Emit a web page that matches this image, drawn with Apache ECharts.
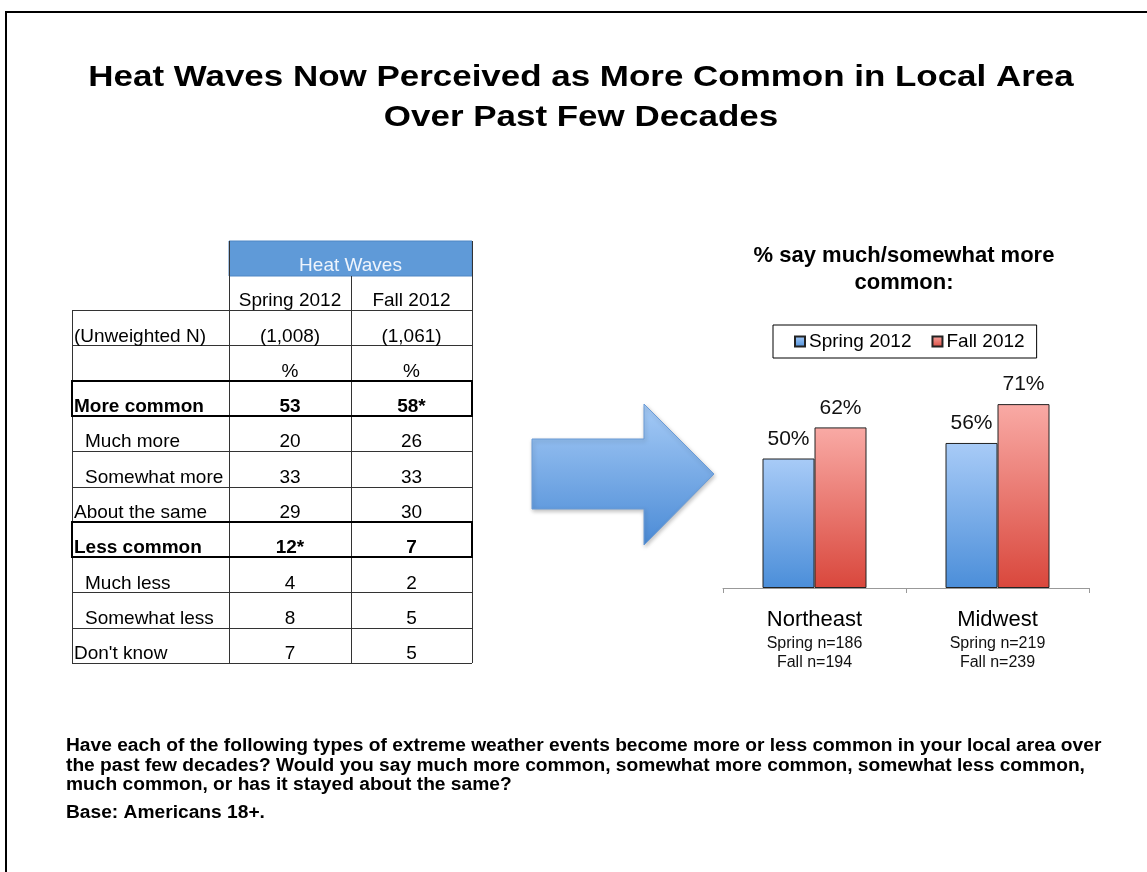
<!DOCTYPE html>
<html>
<head>
<meta charset="utf-8">
<script src="https://cdn.jsdelivr.net/npm/echarts@6/dist/echarts.min.js"></script>
<style>
html,body{margin:0;padding:0;background:#fff;}
#c{width:1147px;height:872px;}
</style>
</head>
<body>
<div id="c"></div>
<script>
// ---- data ----
const titleLines = ['Heat Waves Now Perceived as More Common in Local Area', 'Over Past Few Decades'];
const tableHeader = 'Heat Waves';
const tableCols = ['Spring 2012', 'Fall 2012'];
const rowLabels = ['(Unweighted N)', '', 'More common', 'Much more', 'Somewhat more', 'About the same', 'Less common', 'Much less', 'Somewhat less', "Don't know"];
const springCol = ['(1,008)', '%', '53', '20', '33', '29', '12*', '4', '8', '7'];
const fallCol = ['(1,061)', '%', '58*', '26', '33', '30', '7', '2', '5', '5'];
const boldRows = [2, 6];
const indentRows = [3, 4, 7, 8];

const chartTitle = '% say much/somewhat more\ncommon:';
const regions = ['Northeast', 'Midwest'];
const springPct = [50, 56];
const fallPct = [62, 71];
const springN = [186, 219];
const fallN = [194, 239];
const seriesNames = ['Spring 2012', 'Fall 2012'];

const footerLines = [
  'Have each of the following types of extreme weather events become more or less common in your local area over',
  'the past few decades? Would you say much more common, somewhat more common, somewhat less common,',
  'much common, or has it stayed about the same?'
];
const baseNote = 'Base: Americans 18+.';

// ---- layout ----
const FONT = '"Liberation Sans", Arial, Helvetica, sans-serif';
const chart = echarts.init(document.getElementById('c'));
const g = [];

// page frame
g.push({type: 'rect', shape: {x: 6, y: 12, width: 1200, height: 900}, style: {fill: 'none', stroke: '#000', lineWidth: 2}, z: 1});

// title (wide lettering, as in the slide)
titleLines.forEach((t, i) => {
  g.push({type: 'text', x: 581, y: 78 + i * 40, scaleX: 1.165, scaleY: 1,
    style: {text: t, x: 0, y: 0, align: 'center', verticalAlign: 'middle', font: 'bold 30px ' + FONT, fill: '#000'}});
});

// table
const X0 = 72, X1 = 229, X2 = 351, X3 = 472;
const HY0 = 241, HY1 = 276, RY0 = 310, RH = 35.3;
const nRows = rowLabels.length;
const yEnd = RY0 + RH * nRows;
g.push({type: 'rect', shape: {x: X1, y: HY0, width: X3 - X1, height: HY1 - HY0}, style: {fill: '#5f9ad8', stroke: '#4f86c4', lineWidth: 1}});
g.push({type: 'text', style: {text: tableHeader, x: (X1 + X3) / 2, y: 266, align: 'center', verticalAlign: 'middle', font: '19px ' + FONT, fill: '#eef4fc'}});
tableCols.forEach((c, i) => {
  g.push({type: 'text', style: {text: c, x: i === 0 ? (X1 + X2) / 2 : (X2 + X3) / 2, y: HY1 + 25, align: 'center', verticalAlign: 'middle', font: '19px ' + FONT, fill: '#000'}});
});
const lineStyle = {stroke: '#333', lineWidth: 1};
for (let r = 0; r <= nRows; r++) {
  const y = Math.round(RY0 + RH * r) + 0.5;
  g.push({type: 'line', shape: {x1: X0, y1: y, x2: X3, y2: y}, style: lineStyle});
}
g.push({type: 'line', shape: {x1: X0 + 0.5, y1: RY0, x2: X0 + 0.5, y2: yEnd}, style: lineStyle});
g.push({type: 'line', shape: {x1: X1 + 0.5, y1: HY0, x2: X1 + 0.5, y2: yEnd}, style: lineStyle});
g.push({type: 'line', shape: {x1: X2 + 0.5, y1: HY1, x2: X2 + 0.5, y2: yEnd}, style: lineStyle});
g.push({type: 'line', shape: {x1: X3 + 0.5, y1: HY0, x2: X3 + 0.5, y2: yEnd}, style: lineStyle});
boldRows.forEach(r => {
  const y = Math.round(RY0 + RH * r);
  g.push({type: 'rect', shape: {x: X0, y: y, width: X3 - X0, height: Math.round(RH)}, style: {fill: 'none', stroke: '#000', lineWidth: 2}, z: 5});
});
rowLabels.forEach((lab, r) => {
  const yb = RY0 + RH * (r + 1);
  const bold = boldRows.indexOf(r) >= 0;
  const f = (bold ? 'bold ' : '') + '19px ' + FONT;
  const ty = yb - 9;
  if (lab) g.push({type: 'text', style: {text: lab, x: indentRows.indexOf(r) >= 0 ? 85 : 74, y: ty, align: 'left', verticalAlign: 'middle', font: f, fill: '#000'}});
  g.push({type: 'text', style: {text: springCol[r], x: (X1 + X2) / 2, y: ty, align: 'center', verticalAlign: 'middle', font: f, fill: '#000'}});
  g.push({type: 'text', style: {text: fallCol[r], x: (X2 + X3) / 2, y: ty, align: 'center', verticalAlign: 'middle', font: f, fill: '#000'}});
});

// arrow
g.push({type: 'polygon', shape: {points: [[532, 439], [644, 439], [644, 404], [714, 474], [644, 545], [644, 509], [532, 509]]},
  style: {fill: new echarts.graphic.LinearGradient(0, 0, 0, 1, [{offset: 0, color: '#a6cbf6'}, {offset: 1, color: '#4b8bd6'}]),
    stroke: '#6a9bd6', lineWidth: 1, shadowBlur: 4, shadowOffsetX: 1, shadowOffsetY: 2, shadowColor: 'rgba(0,0,0,0.25)'}});

// footer
footerLines.forEach((t, i) => {
  g.push({type: 'text', style: {text: t, x: 66, y: 746 + i * 19.3, align: 'left', verticalAlign: 'middle', font: 'bold 19.2px ' + FONT, fill: '#000'}});
});
g.push({type: 'text', style: {text: baseNote, x: 66, y: 813, align: 'left', verticalAlign: 'middle', font: 'bold 19.2px ' + FONT, fill: '#000'}});

// chart title
g.push({type: 'text', style: {text: chartTitle, x: 904, y: 269, align: 'center', verticalAlign: 'middle', font: 'bold 22px ' + FONT, lineHeight: 27, fill: '#000'}});

const blueGrad = new echarts.graphic.LinearGradient(0, 0, 0, 1, [{offset: 0, color: '#a8cbf7'}, {offset: 1, color: '#4b8ed9'}]);
const redGrad = new echarts.graphic.LinearGradient(0, 0, 0, 1, [{offset: 0, color: '#f9aaa5'}, {offset: 1, color: '#d9473c'}]);

const catLabels = regions.map((r, i) => '{a|' + r + '}\n{b|Spring n=' + springN[i] + '}\n{b|Fall n=' + fallN[i] + '}');

chart.setOption({
  animation: false,
  textStyle: {fontFamily: FONT},
  legend: {
    left: 773, top: 325, padding: [7, 12, 7, 21], itemGap: 20, itemWidth: 10, itemHeight: 10,
    borderColor: '#000', borderWidth: 1, backgroundColor: '#fff',
    textStyle: {fontSize: 19, color: '#000', fontFamily: FONT, padding: [0, 0, 0, -1]},
    data: [{name: seriesNames[0], icon: 'rect'}, {name: seriesNames[1], icon: 'rect'}]
  },
  grid: {left: 723, right: 58, top: 329, bottom: 284, containLabel: false},
  xAxis: {
    type: 'category', data: regions,
    axisLine: {lineStyle: {color: '#999'}},
    axisTick: {show: true, length: 5, lineStyle: {color: '#999'}},
    axisLabel: {
      margin: 18, interval: 0,
      formatter: (v, i) => catLabels[i],
      rich: {
        a: {fontSize: 22, color: '#000', lineHeight: 28, fontFamily: FONT},
        b: {fontSize: 16, color: '#111', lineHeight: 19, fontFamily: FONT}
      }
    }
  },
  yAxis: {type: 'value', min: 0, max: 100, show: false, splitLine: {show: false}},
  series: [
    {name: seriesNames[0], type: 'bar', data: springPct, barWidth: 52, barGap: '0%',
      itemStyle: {color: blueGrad, borderColor: '#222', borderWidth: 1},
      label: {show: true, position: 'top', distance: 9, formatter: '{c}%', fontSize: 21, color: '#111', fontFamily: FONT}},
    {name: seriesNames[1], type: 'bar', data: fallPct, barWidth: 52, barGap: '0%',
      itemStyle: {color: redGrad, borderColor: '#222', borderWidth: 1},
      label: {show: true, position: 'top', distance: 9, formatter: '{c}%', fontSize: 21, color: '#111', fontFamily: FONT}}
  ],
  graphic: {elements: g}
});
</script>
</body>
</html>
